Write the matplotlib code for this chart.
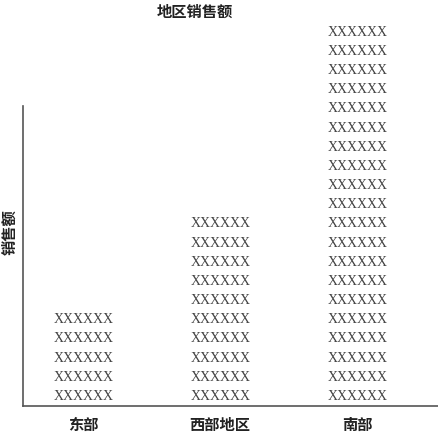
import matplotlib
matplotlib.use("Agg")
import matplotlib.pyplot as plt

categories = ['东部', '西部地区', '南部']
counts = [5, 10, 20]
symbol = 'XXXXXX'
title = '地区销售额'
ylabel = '销售额'

cjk = ['Noto Sans CJK SC', 'DejaVu Sans']
fig = plt.figure(figsize=(4.38, 4.32), dpi=100)
W, H = 438, 432
ax = fig.add_axes([23 / W, (H - 406) / H, (W - 23) / W, 300 / H])

for i, n in enumerate(counts):
    for k in range(1, n + 1):
        ax.text(i, k - 0.5, symbol, ha='center', va='center',
                family='Liberation Serif', fontsize=10, color='#444444',
                clip_on=False)

ax.set_xlim(-0.44, 2.59)
ax.set_ylim(0, 15.65)
ax.set_xticks(range(len(categories)))
ax.set_xticklabels(categories, family=cjk, fontsize=11, fontweight='bold', color='#222222')
ax.tick_params(axis='x', length=0, pad=8)
ax.set_yticks([])
for s in ['top', 'right']:
    ax.spines[s].set_visible(False)
for s in ['left', 'bottom']:
    ax.spines[s].set_color('#555555')
    ax.spines[s].set_linewidth(1.2)

fig.text(195 / W, 1 - 12 / H, title, family=cjk, fontsize=11, fontweight='bold',
         ha='center', va='center', color='#222222')
fig.text(9 / W, 1 - 232 / H, ylabel, family=cjk, fontsize=11, fontweight='bold',
         ha='center', va='center', rotation=90, color='#222222')

fig.savefig('out.png', dpi=100)
